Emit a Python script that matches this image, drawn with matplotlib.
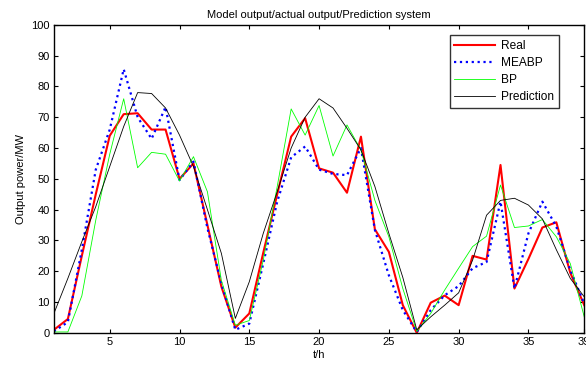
import matplotlib
matplotlib.use('Agg')
import matplotlib.pyplot as plt

plt.rcParams['font.family'] = ['Liberation Sans', 'DejaVu Sans']

hours = list(range(1, 40))

real = [1, 4.5, 25, 45, 64, 71, 71.3, 66, 66, 50, 55, 35, 15,
        1.7, 6.3, 26, 45, 63.7, 69.7, 53.4, 52, 45.5, 63.7, 33.6, 26.3, 9,
        0, 9.8, 12.1, 9, 25, 23.8, 54.5, 14.4, 24, 34.2, 35.9, 19.5, 9]
meabp = [0.5, 3.5, 27, 53, 66, 85.6, 70, 63, 73.3, 49.6, 55.6, 34, 16,
         1, 3, 22.5, 42.6, 57, 60.5, 53, 51.6, 51.2, 60, 33.4, 18.7, 7.4,
         0.3, 7.4, 12.2, 15.2, 21, 23, 42.6, 14.4, 32.3, 42.6, 34.5, 20.4, 9.5]
bp = [0.3, 0.3, 12, 36.6, 58, 76, 53.6, 58.6, 58, 49.3, 57.2, 45.8, 17,
      2.5, 4, 23.6, 47.5, 72.7, 64.2, 73.8, 57.4, 67.5, 59.4, 43, 31.2, 14.4,
      0.5, 6.3, 13.9, 21, 28, 31.4, 48, 34.2, 34.7, 36.8, 31.2, 22.5, 5.2]
prediction = [6.3, 17.7, 29.6, 41, 54, 67, 78, 77.7, 73, 64.2, 54, 40, 25.8,
              4.7, 16.6, 32.3, 45.8, 60, 70, 76, 73, 66.4, 59.4, 47.5, 32.3, 18,
              1, 5.2, 9, 13, 23.6, 38.2, 43, 43.7, 41.5, 37, 27, 17.7, 11.7]

xtick_vals = [5, 10, 15, 20, 25, 30, 35, 39]
xtick_labels = ['5', '10', '15', '20', '25', '30', '35', '39']

fig = plt.figure(figsize=(5.86, 3.65), dpi=100)
ax = fig.add_axes([0.092, 0.088, 0.905, 0.844])

ax.plot(hours, real, color='red', lw=1.5, label='Real')
ax.plot(hours, meabp, color='blue', lw=1.6, ls=':', label='MEABP')
ax.plot(hours, bp, color='#00ff00', lw=0.6, label='BP')
ax.plot(hours, prediction, color='black', lw=0.6, label='Prediction')

ax.set_xlim(1, 39)
ax.set_ylim(0, 100)
ax.set_xticks(xtick_vals)
ax.set_xticklabels(xtick_labels)
ax.set_yticks(range(0, 101, 10))
ax.tick_params(direction='in', top=True, right=True, length=3, width=0.8, labelsize=8, pad=3)
for s in ax.spines.values():
    s.set_linewidth(1.0)

ax.set_title('Model output/actual output/Prediction system', fontsize=8, pad=5)
ax.set_xlabel('t/h', fontsize=8, labelpad=2)
ax.set_ylabel('Output power/MW', fontsize=8, labelpad=4)

leg = ax.legend(loc='upper right', bbox_to_anchor=(0.963, 0.985), fontsize=8.6, frameon=True,
                fancybox=False, edgecolor='black', handlelength=3.4, borderpad=0.4,
                labelspacing=0.42, handletextpad=0.5)
leg.get_frame().set_linewidth(1.0)

fig.savefig('out.png', dpi=100)
